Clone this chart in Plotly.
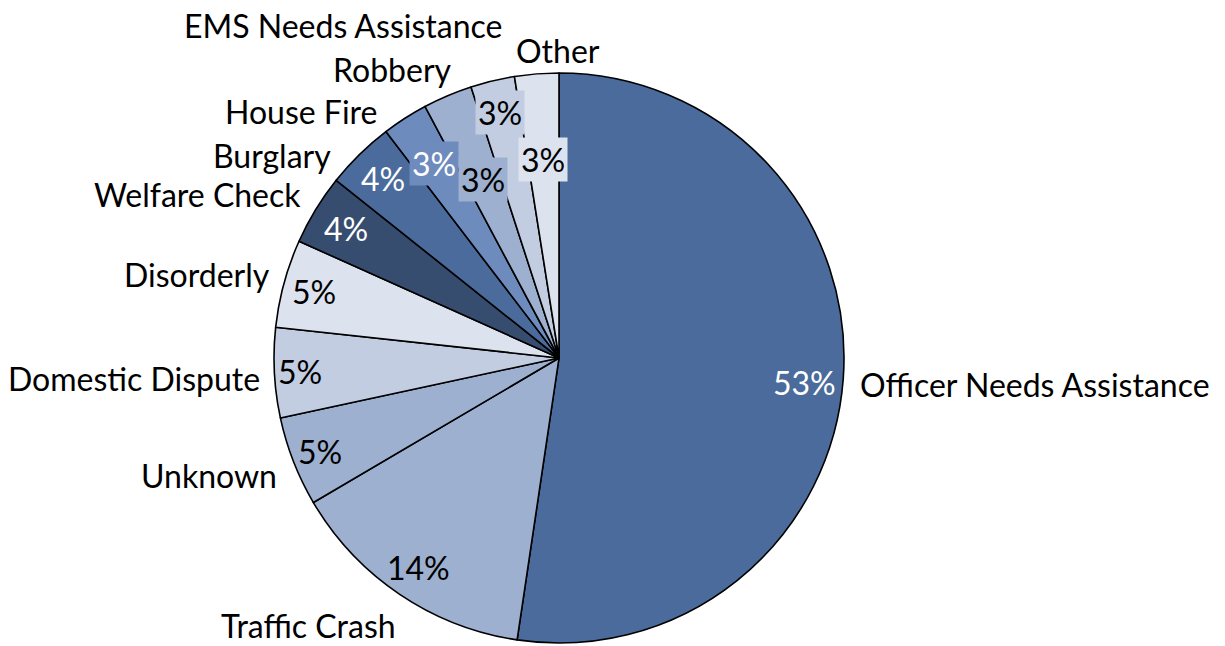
import math
import plotly.graph_objects as go

# ---- data ----
categories = ["Officer Needs Assistance", "Traffic Crash", "Unknown", "Domestic Dispute",
              "Disorderly", "Welfare Check", "Burglary", "House Fire", "Robbery",
              "EMS Needs Assistance", "Other"]
values = [52.4, 14.2, 5.1, 5.1, 5.0, 4.0, 3.9, 2.6, 2.8, 2.5, 2.5]
pct_labels = ["53%", "14%", "5%", "5%", "5%", "4%", "4%", "3%", "3%", "3%", "3%"]

# ---- style ----
colors = ["#4A6B9B", "#9DB0CF", "#9DB0CF", "#C3CDE1", "#DDE3EE", "#374D6F",
          "#4A6B9B", "#6D8BBC", "#9DB0CF", "#C3CDE1", "#DDE3EE"]
pct_font_colors = ["white", "black", "black", "black", "black", "white",
                   "white", "white", "black", "black", "black"]
pct_radius = [0.865, 0.885, 0.90, 0.91, 0.89, 0.875, 0.88, 0.81, 0.68, 0.885, 0.70]
# small angular shifts (degrees) of percentage labels
pct_shift = [1.5, 0, 0, 0, 0, 0, 0, 0, 0, 0, 0]
# label boxes filled with slice colour (visible where they cross slice borders)
pct_boxed = [False, False, False, False, False, False, False, True, True, True, True]
# pixel nudges for outside category labels (Excel-style placement)
name_nudge = [(3, 5), (5, 22), (-4, 10), (-1, 5), (-1, -6), (-3, -9),
              (-19, 9), (-20, 3), (11, -16), (14, -44), (22, -12)]

W, H = 1225, 646
CX, CY, R = 559, 358, 285
FONT = "Lato"
FS = 32

fig = go.Figure()
fig.add_trace(go.Pie(
    labels=categories, values=values, sort=False, direction="clockwise", rotation=0,
    marker=dict(colors=colors, line=dict(color="black", width=1.6)),
    textinfo="none", showlegend=False, hoverinfo="label+percent",
    domain=dict(x=[(CX - R) / W, (CX + R) / W], y=[(H - CY - R) / H, (H - CY + R) / H]),
))

total = sum(values)
cum = 0.0
annotations = []
for i, v in enumerate(values):
    mid = (cum + v / 2) / total * 2 * math.pi
    cum += v
    s, c = math.sin(mid), math.cos(mid)
    pm = mid + math.radians(pct_shift[i])
    # percentage label inside slice
    px = CX + R * pct_radius[i] * math.sin(pm)
    py = CY - R * pct_radius[i] * math.cos(pm)
    ann = dict(
        x=px / W, y=1 - py / H, xref="paper", yref="paper", text=pct_labels[i],
        showarrow=False, xanchor="center", yanchor="middle",
        font=dict(family=FONT, size=FS, color=pct_font_colors[i]),
        borderpad=2,
    )
    if pct_boxed[i]:
        ann["bgcolor"] = colors[i]
    annotations.append(ann)
    # category label outside
    bx = CX + R * 1.04 * s + name_nudge[i][0]
    by = CY - R * 1.04 * c + name_nudge[i][1]
    if abs(s) < 0.15:
        xa = "center"
    elif s > 0:
        xa = "left"
    else:
        xa = "right"
    annotations.append(dict(
        x=bx / W, y=1 - by / H, xref="paper", yref="paper", text=categories[i],
        showarrow=False, xanchor=xa, yanchor="middle",
        font=dict(family=FONT, size=FS, color="black"),
    ))

fig.update_layout(
    width=W, height=H, margin=dict(l=0, r=0, t=0, b=0),
    paper_bgcolor="white", plot_bgcolor="white",
    annotations=annotations,
)
fig.write_html("out.html", config={"displayModeBar": False},
               post_script="document.body.style.margin='0';")
